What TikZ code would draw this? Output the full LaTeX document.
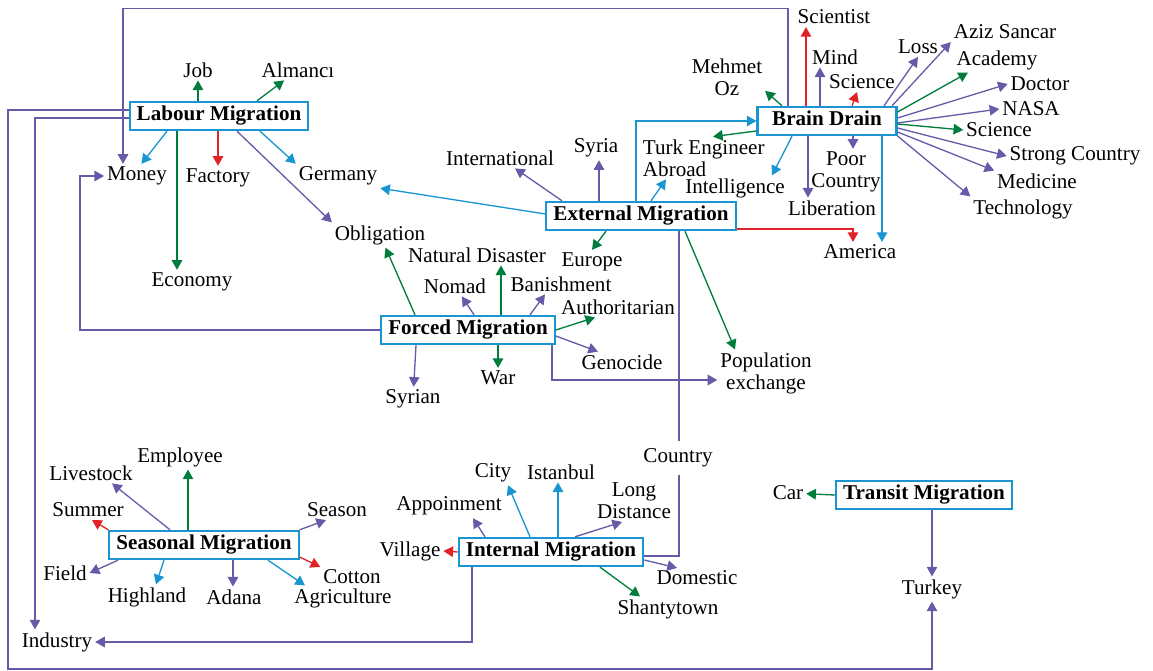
\documentclass[tikz,border=0pt]{standalone}
\usepackage{fontspec}
\setmainfont{Liberation Serif}
\usetikzlibrary{arrows.meta}

\definecolor{mblue}{RGB}{25,150,210}
\definecolor{mgreen}{RGB}{0,125,60}
\definecolor{mred}{RGB}{225,35,40}
\definecolor{mpurple}{RGB}{100,92,168}

\begin{document}
\begin{tikzpicture}[x=0.02cm, y=-0.02cm,
    mbox/.style={draw=mblue, line width=1.2pt, fill=white, inner xsep=4pt, inner ysep=2.8pt,
        text height=8pt, text depth=2.5pt, font=\bfseries\fontsize{12}{13}\selectfont},
    lbl/.style={inner sep=1.5pt, font=\fontsize{12}{12.5}\selectfont, align=center},
    arr/.style={draw=#1, line width=0.75pt, -{Triangle[length=5.5pt,width=6pt]}},
    lne/.style={draw=#1, line width=0.75pt}]
    \useasboundingbox (0,0) rectangle (1153,671);

    % Boxes
    \node[mbox] (labour) at (219,116) {Labour Migration};
    \node[mbox, minimum width=2.78cm] (brain) at (827,121) {Brain Drain};
    \node[mbox] (external) at (641,216) {External Migration};
    \node[mbox] (forced) at (468,330) {Forced Migration};
    \node[mbox] (seasonal) at (204,545) {Seasonal Migration};
    \node[mbox] (internal) at (551,552) {Internal Migration};
    \node[mbox] (transit) at (924,495) {Transit Migration};

    % Labels round Labour Migration
    \node[lbl] (job) at (198,70) {Job};
    \node[lbl] (almanci) at (298,70) {Almancı};
    \node[lbl] (money) at (137,176) {Money};
    \node[lbl] (factory) at (218,178) {Factory};
    \node[lbl] (germany) at (338,176) {Germany};
    \node[lbl] (obligation) at (380,235) {Obligation};
    \node[lbl] (economy) at (192,282) {Economy};
    \node[lbl] (industry) at (57,642) {Industry};

    % Labels round Brain Drain
    \node[lbl] (scientist) at (834,17) {Scientist};
    \node[lbl] (mind) at (835,57) {Mind};
    \node[lbl] (sciencea) at (862,82) {Science};
    \node[lbl] (loss) at (918,47) {Loss};
    \node[lbl] (aziz) at (1005,32) {Aziz Sancar};
    \node[lbl] (academy) at (997,60) {Academy};
    \node[lbl] (doctor) at (1040,84) {Doctor};
    \node[lbl] (nasa) at (1031,109) {NASA};
    \node[lbl] (scienceb) at (999,130) {Science};
    \node[lbl] (strong) at (1075,156) {Strong Country};
    \node[lbl] (medicine) at (1037,181) {Medicine};
    \node[lbl] (technology) at (1023,209) {Technology};
    \node[lbl] (poor) at (846,172) {Poor\\Country};
    \node[lbl] (liberation) at (832,208) {Liberation};
    \node[lbl] (america) at (860,252) {America};
    \node[lbl] (intelligence) at (735,188) {Intelligence};
    \node[lbl] (mehmet) at (727,77) {Mehmet\\Oz};
    \node[lbl, anchor=west, align=left] (turk) at (640,158) {Turk Engineer\\Abroad};

    % Labels round External Migration
    \node[lbl] (syria) at (596,148) {Syria};
    \node[lbl] (international) at (500,158) {International};
    \node[lbl] (europe) at (592,262) {Europe};
    \node[lbl] (population) at (766,373) {Population\\exchange};
    \node[lbl, inner ysep=4pt] (country) at (678,458) {Country};

    % Labels round Forced Migration
    \node[lbl] (natural) at (477,255) {Natural Disaster};
    \node[lbl] (nomad) at (455,286) {Nomad};
    \node[lbl] (banishment) at (561,284) {Banishment};
    \node[lbl] (authoritarian) at (618,307) {Authoritarian};
    \node[lbl] (genocide) at (622,362) {Genocide};
    \node[lbl] (war) at (498,378) {War};
    \node[lbl] (syrian) at (413,399) {Syrian};

    % Labels round Seasonal Migration
    \node[lbl] (employee) at (180,457) {Employee};
    \node[lbl] (livestock) at (91,473) {Livestock};
    \node[lbl] (summer) at (88,510) {Summer};
    \node[lbl] (field) at (65,573) {Field};
    \node[lbl] (highland) at (147,597) {Highland};
    \node[lbl] (adana) at (234,597) {Adana};
    \node[lbl] (agriculture) at (343,598) {Agriculture};
    \node[lbl] (cotton) at (352,577) {Cotton};
    \node[lbl] (season) at (337,510) {Season};

    % Labels round Internal and Transit Migration
    \node[lbl] (city) at (493,473) {City};
    \node[lbl] (istanbul) at (561,472) {Istanbul};
    \node[lbl] (appoinment) at (449,506) {Appoinment};
    \node[lbl] (longd) at (634,501) {Long\\Distance};
    \node[lbl] (village) at (410,551) {Village};
    \node[lbl] (domestic) at (697,578) {Domestic};
    \node[lbl] (shantytown) at (668,609) {Shantytown};
    \node[lbl] (car) at (788,493) {Car};
    \node[lbl] (turkey) at (932,589) {Turkey};

    % Labour Migration arrows
    \draw[arr=mgreen] (labour.north -| job) -- (job);
    \draw[arr=mgreen] (labour.north -| 257,0) -- (almanci);
    \draw[arr=mblue] (labour.south -| 167,0) -- (money.70);
    \draw[arr=mred] (labour.south -| factory) -- (factory);
    \draw[arr=mblue] (labour.south -| 260,0) -- (germany.north west);
    \draw[arr=mpurple] (labour.south -| 237,0) -- (obligation.north west);
    \draw[arr=mgreen] (labour.south -| 177,0) -- (economy.north -| 177,0);

    % Long lines
    \draw[arr=mpurple] (labour.west |- 0,110) -| (8,669) -| (turkey.south);
    \draw[arr=mpurple] (labour.west |- 0,118) -| (industry.north -| 35,0);
    \draw[arr=mpurple] (brain.north -| 788,0) -- ++(0,-97) -| (money.north -| 123,0);
    \draw[arr=mpurple] (forced.west) -- (forced.west -| 80,0) |- (money.west);
    \draw[arr=mpurple] (internal.south -| 472,0) |- (industry.east);

    % Brain Drain arrows
    \draw[arr=mred] (brain.north -| 806,0) -- (scientist.south -| 806,0);
    \draw[arr=mpurple] (brain.north -| 820,0) -- (mind.south -| 820,0);
    \draw[arr=mred] (brain.north -| 852,0) -- (sciencea.south -| 857,0);
    \draw[arr=mpurple] (brain.north -| 884,0) -- (loss.south);
    \draw[arr=mpurple] (brain.north -| 892,0) -- (aziz.south west);
    \draw[arr=mgreen] (brain.east |- 0,112) -- (academy.south -| 968,0);
    \foreach \y/\e/\col in {118/doctor.west/mpurple, 123/nasa.west/mpurple,
        124/scienceb.west/mgreen, 128/strong.west/mpurple,
        132/medicine.north west/mpurple, 136/technology.north west/mpurple}
    {
        \draw[arr=\col] (brain.east |- 0,\y) -- (\e);
    }
    \draw[arr=mpurple] (brain.south -| 853,0) -- (poor.north -| 853,0);
    \draw[arr=mpurple] (brain.south -| 808,0) -- (liberation.north -| 808,0);
    \draw[arr=mblue] (brain.south -| 882,0) -- (america.north -| 882,0);
    \draw[arr=mblue] (brain.south -| 792,0) -- (intelligence.north -| 772,0);
    \draw[arr=mgreen] (brain.north -| 782,0) -- (mehmet.-20);
    \draw[arr=mgreen] (brain.west |- 0,131) -- (turk.north -| 713,0);

    % External Migration arrows
    \draw[arr=mblue] (external.north -| 636,0) |- (brain.west);
    \draw[arr=mpurple] (external.north -| 599,0) -- (syria.south -| 599,0);
    \draw[arr=mpurple] (external.north -| 562,0) -- (international);
    \draw[arr=mblue] (external.north -| 651,0) -- (turk.south -| 666,0);
    \draw[arr=mblue] (external.west |- 0,214) -- (germany.south east);
    \draw[arr=mgreen] (external.south -| 606,0) -- (europe.north);
    \draw[arr=mgreen] (external.south -| 685,0) -- (population.north -| 735,0);
    \draw[arr=mred] (external.east |- 0,229) -| (america.north -| 853,0);
    \draw[lne=mpurple] (external.south -| 679,0) -- (country.north -| 679,0);
    \draw[lne=mpurple] (country.south -| 679,0) |- (internal.east |- 0,556);

    % Forced Migration arrows
    \draw[arr=mgreen] (forced.north -| 415,0) -- (obligation);
    \draw[arr=mgreen] (forced.north -| 501,0) -- (natural.south -| 501,0);
    \draw[arr=mpurple] (forced.north -| 474,0) -- (nomad);
    \draw[arr=mpurple] (forced.north -| 530,0) -- (banishment.south -| 545,0);
    \draw[arr=mgreen] (forced.east |- 0,330) -- (authoritarian.south -| 595,0);
    \draw[arr=mpurple] (forced.east |- 0,336) -- (genocide.north -| 598,0);
    \draw[arr=mgreen] (forced.south -| war) -- (war);
    \draw[arr=mpurple] (forced.south -| 416,0) -- (syrian);
    \draw[arr=mpurple] (forced.south -| 552,0) |- (population.west |- 0,380);

    % Seasonal Migration arrows
    \draw[arr=mgreen] (seasonal.north -| 188,0) -- (employee.south -| 188,0);
    \draw[arr=mpurple] (seasonal.north -| 170,0) -- (livestock.south -| 112,0);
    \draw[arr=mred] (seasonal.north west) -- (summer.south -| 92,0);
    \draw[arr=mpurple] (seasonal.south -| 118,0) -- (field.east);
    \draw[arr=mblue] (seasonal.south -| 164,0) -- (highland.north -| 156,0);
    \draw[arr=mpurple] (seasonal.south -| 233,0) -- (adana.north -| 233,0);
    \draw[arr=mblue] (seasonal.south -| 268,0) -- (agriculture.north -| 305,0);
    \draw[arr=mred] (seasonal.east |- 0,557) -- (cotton.north west);
    \draw[arr=mpurple] (seasonal.north east) -- (season.south -| 326,0);

    % Internal Migration arrows
    \draw[arr=mblue] (internal.north -| 530,0) -- (city.south -| 508,0);
    \draw[arr=mblue] (internal.north -| 558,0) -- (istanbul.south -| 558,0);
    \draw[arr=mpurple] (internal.north -| 485,0) -- (appoinment.south -| 473,0);
    \draw[arr=mpurple] (internal.north -| 575,0) -- (longd.south -| 622,0);
    \draw[arr=mred] (internal.west) -- (village.east);
    \draw[arr=mpurple] (internal.east |- 0,560) -- (domestic.north -| 677,0);
    \draw[arr=mgreen] (internal.south -| 600,0) -- (shantytown.north -| 640,0);

    % Transit Migration arrows
    \draw[arr=mgreen] (transit.west) -- (car);
    \draw[arr=mpurple] (transit.south -| turkey) -- (turkey);
\end{tikzpicture}
\end{document}
